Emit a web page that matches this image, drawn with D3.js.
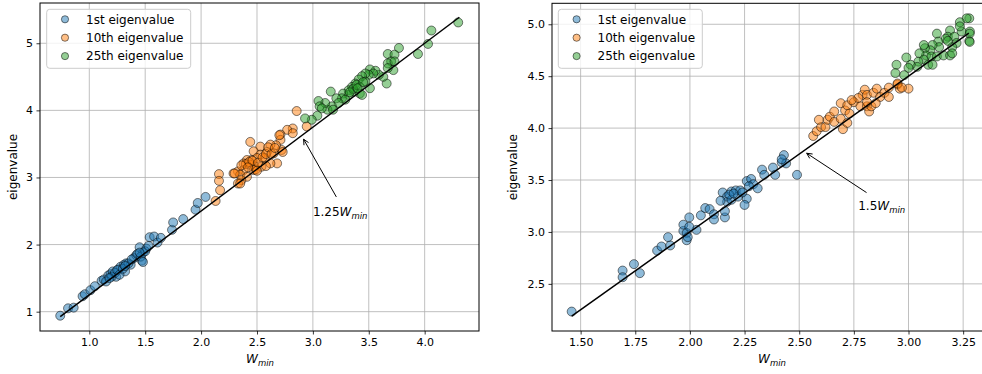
<!DOCTYPE html>
<html><head><meta charset="utf-8">
<script src="https://cdn.jsdelivr.net/npm/d3@7"></script>
<style>
html,body{margin:0;padding:0;background:#fff;overflow:hidden}
text{font-family:"DejaVu Sans",sans-serif;fill:#000}
</style></head>
<body><svg id="c" width="982" height="374"></svg>
<script>
// ---------- DATA ----------
const seriesNames = ["1st eigenvalue", "10th eigenvalue", "25th eigenvalue"];
const seriesColors = ["#1f77b4", "#ff7f0e", "#2ca02c"];

// Left panel (slope 1.25)
const leftBlue = [[0.74,0.94],[0.81,1.05],[0.86,1.06],[0.94,1.23],[0.96,1.26],[1.01,1.32],[1.05,1.38],[1.11,1.46],[1.13,1.48],[1.17,1.54],[1.19,1.56],[1.21,1.60],[1.24,1.52],[1.26,1.63],[1.28,1.67],[1.31,1.70],[1.32,1.60],[1.33,1.72],[1.37,1.70],[1.40,1.80],[1.42,1.84],[1.45,1.96],[1.47,1.76],[1.48,1.88],[1.51,1.94],[1.54,2.11],[1.58,2.12],[1.61,2.03],[1.64,2.10],[1.74,2.22],[1.75,2.33],[1.84,2.38],[1.95,2.52],[1.97,2.62],[2.04,2.71],[1.20,1.52],[1.23,1.58],[1.25,1.62],[1.27,1.55],[1.30,1.64],[1.35,1.72],[1.38,1.78],[1.43,1.86],[1.46,1.82],[1.50,1.90],[1.53,1.98],[1.15,1.45],[1.18,1.50],[1.32,1.68],[1.45,1.88],[1.48,1.74]];
const leftOrange = [[2.855,3.99],[2.945,3.76],[2.82,3.73],[2.77,3.71],[2.82,3.66],[2.71,3.64],[2.71,3.56],[2.44,3.53],[2.72,3.41],[2.67,3.48],[2.62,3.49],[2.53,3.46],[2.47,3.39],[2.59,3.38],[2.65,3.36],[2.53,3.34],[2.57,3.29],[2.68,3.21],[2.62,3.21],[2.50,3.29],[2.45,3.26],[2.41,3.26],[2.38,3.21],[2.44,3.19],[2.48,3.16],[2.54,3.16],[2.47,3.11],[2.38,3.11],[2.33,3.09],[2.29,3.06],[2.35,3.04],[2.41,3.01],[2.36,2.96],[2.33,2.91],[2.16,3.05],[2.16,2.95],[2.17,2.81],[2.13,2.65],[2.40,3.20],[2.43,3.23],[2.46,3.25],[2.49,3.12],[2.51,3.22],[2.55,3.30],[2.58,3.35],[2.60,3.45],[2.63,3.35],[2.66,3.44],[2.50,3.10],[2.36,3.18],[2.42,3.15],[2.70,3.63],[2.73,3.38],[2.58,3.17],[2.30,3.06],[2.35,2.91]];
const leftGreen = [[4.30,5.31],[4.06,5.19],[4.03,4.99],[3.94,4.84],[3.77,4.93],[3.67,4.84],[3.73,4.83],[3.70,4.73],[3.67,4.70],[3.73,4.73],[3.72,4.60],[3.67,4.63],[3.66,4.40],[3.63,4.50],[3.59,4.53],[3.56,4.59],[3.51,4.61],[3.54,4.55],[3.50,4.53],[3.47,4.55],[3.44,4.51],[3.47,4.43],[3.41,4.46],[3.38,4.40],[3.35,4.35],[3.42,4.35],[3.51,4.33],[3.32,4.30],[3.37,4.28],[3.42,4.25],[3.32,4.23],[3.27,4.25],[3.26,4.18],[3.29,4.16],[3.16,4.28],[3.21,4.18],[3.23,4.11],[3.17,4.06],[3.13,4.01],[3.11,4.11],[3.05,4.14],[3.06,4.06],[3.08,4.03],[3.04,3.92],[2.99,3.86],[2.93,3.88],[3.18,4.01],[3.44,4.23],[3.36,4.32],[3.39,4.38],[3.45,4.42],[3.33,4.27],[3.40,4.33]];

// Right panel (slope 1.5)
const rightBlue = [[1.459,2.233],[1.692,2.628],[1.692,2.564],[1.744,2.690],[1.771,2.603],[1.85,2.82],[1.87,2.86],[1.91,2.87],[1.90,2.95],[1.97,3.01],[1.97,3.07],[1.985,2.99],[1.985,2.92],[1.99,2.95],[1.997,3.14],[2.03,3.02],[1.997,3.05],[2.05,3.16],[2.07,3.23],[2.09,3.22],[2.11,3.17],[2.11,3.12],[2.15,3.38],[2.16,3.14],[2.17,3.34],[2.17,3.29],[2.16,3.20],[2.19,3.39],[2.19,3.31],[2.21,3.40],[2.22,3.34],[2.23,3.40],[2.26,3.32],[2.25,3.26],[2.26,3.49],[2.28,3.51],[2.29,3.46],[2.31,3.42],[2.33,3.60],[2.34,3.55],[2.38,3.62],[2.39,3.55],[2.42,3.67],[2.43,3.74],[2.44,3.66],[2.49,3.55],[2.18,3.36],[2.20,3.37],[2.14,3.30],[2.27,3.44],[2.24,3.38],[2.42,3.70]];
const rightOrange = [[2.564,3.924],[2.58,3.97],[2.60,4.01],[2.59,4.08],[2.62,4.01],[2.63,4.08],[2.64,4.11],[2.66,4.16],[2.66,4.06],[2.69,4.09],[2.69,4.24],[2.70,3.99],[2.71,4.17],[2.72,4.22],[2.73,4.14],[2.75,4.25],[2.78,4.21],[2.79,4.32],[2.80,4.37],[2.81,4.21],[2.81,4.32],[2.82,4.16],[2.83,4.21],[2.84,4.34],[2.855,4.38],[2.87,4.30],[2.89,4.34],[2.91,4.30],[2.91,4.39],[2.95,4.42],[2.96,4.38],[3.00,4.38],[2.85,4.24],[2.77,4.29],[2.81,4.25],[2.74,4.27],[2.72,4.05],[2.95,4.43],[2.97,4.39]];
const rightGreen = [[3.278,5.057],[3.266,5.057],[3.235,5.02],[3.281,4.93],[3.278,4.84],[3.243,4.93],[3.19,4.94],[3.18,4.88],[3.21,4.88],[3.13,4.91],[3.17,4.86],[3.22,4.82],[3.20,4.78],[3.18,4.84],[3.136,4.833],[3.14,4.78],[3.11,4.80],[3.10,4.75],[3.075,4.77],[3.08,4.70],[3.05,4.72],[3.105,4.69],[3.13,4.69],[3.16,4.70],[3.19,4.70],[3.07,4.66],[3.045,4.64],[3.09,4.61],[3.11,4.61],[3.04,4.59],[3.01,4.61],[3.00,4.58],[2.99,4.68],[2.98,4.51],[2.945,4.61],[2.94,4.53],[3.07,4.80],[3.28,4.91],[3.28,4.83],[3.20,4.72],[3.235,4.98]];

const leftXTicks = [1.0, 1.5, 2.0, 2.5, 3.0, 3.5, 4.0];
const leftYTicks = [1, 2, 3, 4, 5];
const rightXTicks = [1.50, 1.75, 2.00, 2.25, 2.50, 2.75, 3.00, 3.25];
const rightYTicks = [2.5, 3.0, 3.5, 4.0, 4.5, 5.0];

const leftFit = {slope: 1.25, x0: 0.74, x1: 4.31, label: "1.25"};
const rightFit = {slope: 1.5, x0: 1.459, x1: 3.276, label: "1.5"};
// annotation: arrow tip, arrow tail, text anchor (data coords)
const leftAnno = {tip: [2.917, 3.57], tail: [3.21, 2.71], text: [3.0, 2.49]};
const rightAnno = {tip: [2.534, 3.758], tail: [2.808, 3.379], text: [2.77, 3.25]};

// ---------- DRAW ----------
const svg = d3.select("#c");

function panel(cfg) {
  const {x, y, xTicks, yTicks, xFmt, yFmt, series, fit, anno, legendX, ylabX} = cfg;
  const [L, R] = x.range(), [B, T] = y.range();
  const g = svg.append("g");
  const clipId = "clip" + Math.round(L);
  svg.append("defs").append("clipPath").attr("id", clipId)
    .append("rect").attr("x", L).attr("y", T).attr("width", R - L).attr("height", B - T);

  // grid
  g.append("g").selectAll("line").data(xTicks).join("line")
    .attr("x1", d => x(d)).attr("x2", d => x(d)).attr("y1", T).attr("y2", B)
    .attr("stroke", "#b0b0b0").attr("stroke-width", 0.8);
  g.append("g").selectAll("line").data(yTicks).join("line")
    .attr("y1", d => y(d)).attr("y2", d => y(d)).attr("x1", L).attr("x2", R)
    .attr("stroke", "#b0b0b0").attr("stroke-width", 0.8);

  // points
  const pg = g.append("g").attr("clip-path", `url(#${clipId})`);
  series.forEach((s, i) => {
    pg.append("g").selectAll("circle").data(s).join("circle")
      .attr("cx", d => x(d[0])).attr("cy", d => y(d[1])).attr("r", 4.5)
      .attr("fill", seriesColors[i]).attr("fill-opacity", 0.5)
      .attr("stroke", "#000").attr("stroke-opacity", 0.5).attr("stroke-width", 1);
  });

  // fit line
  pg.append("line")
    .attr("x1", x(fit.x0)).attr("y1", y(fit.slope * fit.x0))
    .attr("x2", x(fit.x1)).attr("y2", y(fit.slope * fit.x1))
    .attr("stroke", "#000").attr("stroke-width", 1.5);

  // annotation arrow
  const tx = x(anno.tail[0]), ty = y(anno.tail[1]);
  const hx = x(anno.tip[0]), hy = y(anno.tip[1]);
  const ang = Math.atan2(ty - hy, tx - hx);
  const hl = 6, hw = 0.45;
  g.append("line").attr("x1", tx).attr("y1", ty).attr("x2", hx).attr("y2", hy)
    .attr("stroke", "#000").attr("stroke-width", 1);
  g.append("path")
    .attr("d", `M${hx + hl*Math.cos(ang+hw)},${hy + hl*Math.sin(ang+hw)}L${hx},${hy}L${hx + hl*Math.cos(ang-hw)},${hy + hl*Math.sin(ang-hw)}`)
    .attr("fill", "none").attr("stroke", "#000").attr("stroke-width", 1);
  const at = g.append("text").attr("x", x(anno.text[0])).attr("y", y(anno.text[1]) + 4.5)
    .attr("font-size", 12);
  at.append("tspan").text(fit.label);
  at.append("tspan").attr("font-style", "italic").text("W");
  at.append("tspan").attr("font-style", "italic").attr("font-size", 8.5).attr("dy", 2.5).text("min");

  // axes frame
  g.append("rect").attr("x", L).attr("y", T).attr("width", R - L).attr("height", B - T)
    .attr("fill", "none").attr("stroke", "#000").attr("stroke-width", 1);

  // x axis
  const xa = g.append("g").attr("transform", `translate(0,${B})`)
    .call(d3.axisBottom(x).tickValues(xTicks).tickFormat(xFmt).tickSizeInner(3.5).tickSizeOuter(0).tickPadding(3.5));
  xa.select(".domain").remove();
  xa.selectAll("text").attr("font-size", 11).attr("font-family", "DejaVu Sans").attr("fill", "#000");
  xa.selectAll("line").attr("stroke", "#000").attr("stroke-width", 0.8);
  const ya = g.append("g").attr("transform", `translate(${L},0)`)
    .call(d3.axisLeft(y).tickValues(yTicks).tickFormat(yFmt).tickSizeInner(3.5).tickSizeOuter(0).tickPadding(3.5));
  ya.select(".domain").remove();
  ya.selectAll("text").attr("font-size", 11).attr("font-family", "DejaVu Sans").attr("fill", "#000");
  ya.selectAll("line").attr("stroke", "#000").attr("stroke-width", 0.8);

  // axis labels
  const xl = g.append("text").attr("x", cfg.xlabX).attr("y", 363)
    .attr("text-anchor", "middle").attr("font-size", 12);
  xl.append("tspan").attr("font-style", "italic").text("W");
  xl.append("tspan").attr("font-style", "italic").attr("font-size", 8.5).attr("dy", 2.5).text("min");
  g.append("text").attr("transform", `translate(${ylabX},${(T + B) / 2}) rotate(-90)`)
    .attr("text-anchor", "middle").attr("font-size", 12).text("eigenvalue");

  // legend
  const lg = g.append("g");
  lg.append("rect").attr("x", legendX).attr("y", 9.3).attr("width", 144).attr("height", 59)
    .attr("rx", 3).attr("fill", "#fff").attr("fill-opacity", 0.8).attr("stroke", "#cccccc").attr("stroke-width", 1);
  seriesNames.forEach((n, i) => {
    const cy = 19.3 + i * 18.4;
    lg.append("circle").attr("cx", legendX + 18.3).attr("cy", cy).attr("r", 3.6)
      .attr("fill", seriesColors[i]).attr("fill-opacity", 0.5)
      .attr("stroke", "#000").attr("stroke-opacity", 0.5).attr("stroke-width", 1);
    lg.append("text").attr("x", legendX + 39.3).attr("y", cy + 4.3).attr("font-size", 12).text(n);
  });
}

panel({
  x: d3.scaleLinear().domain([0.559, 4.486]).range([40, 479]),
  y: d3.scaleLinear().domain([0.712, 5.60]).range([331, 3]),
  xTicks: leftXTicks, yTicks: leftYTicks,
  xFmt: d3.format(".1f"), yFmt: d3.format("d"),
  series: [leftBlue, leftOrange, leftGreen],
  fit: leftFit, anno: leftAnno, legendX: 46.7, ylabX: 17, xlabX: 260
});
panel({
  x: d3.scaleLinear().domain([1.369, 3.371]).range([552, 989.6]),
  y: d3.scaleLinear().domain([2.046, 5.202]).range([331, 3.3]),
  xTicks: rightXTicks, yTicks: rightYTicks,
  xFmt: d3.format(".2f"), yFmt: d3.format(".1f"),
  series: [rightBlue, rightOrange, rightGreen],
  fit: rightFit, anno: rightAnno, legendX: 558.3, ylabX: 517, xlabX: 772
});
</script></body></html>
